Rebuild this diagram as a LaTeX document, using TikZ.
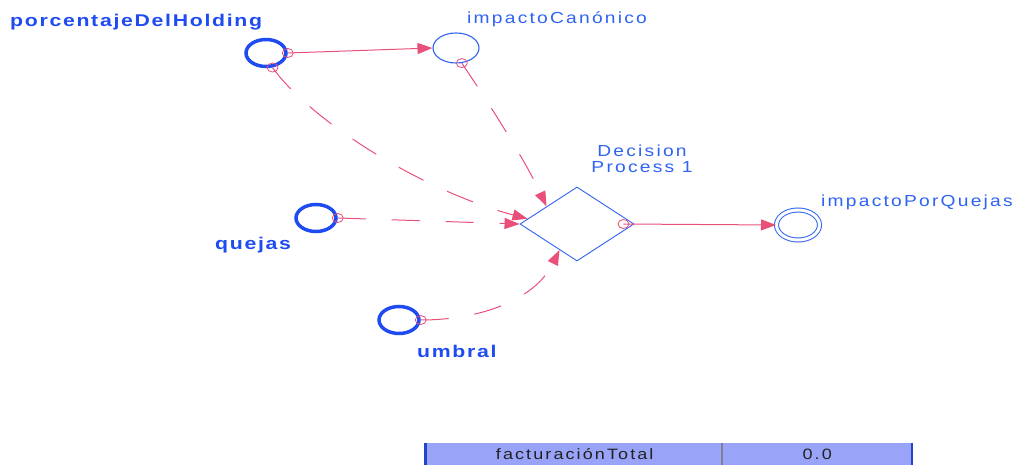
\documentclass[tikz,border=0pt]{standalone}
\usepackage{fontspec}
\setmainfont{Liberation Sans}
\newfontfamily\wideregular[FakeStretch=1.2,LetterSpace=14]{Liberation Sans}
\newfontfamily\widebold[FakeStretch=1.25,LetterSpace=10]{Liberation Sans Bold}
\usetikzlibrary{shapes.geometric,arrows.meta}

\definecolor{varblue}{HTML}{1F4BF2}
\definecolor{auxblue}{HTML}{2F63F2}
\definecolor{linkpink}{HTML}{E8507A}
\definecolor{barfill}{HTML}{99A3F7}
\definecolor{baredge}{HTML}{2244CC}
\definecolor{bardiv}{HTML}{7F7F99}
\definecolor{bartext}{HTML}{222222}

\tikzset{
  inputvar/.style={ellipse, draw=varblue, line width=3.5pt, inner sep=0pt,
    minimum width=40pt, minimum height=27pt},
  auxvar/.style={ellipse, draw=auxblue, line width=1.1pt, inner sep=0pt,
    minimum width=46pt, minimum height=30pt},
  outvar/.style={ellipse, draw=auxblue, line width=1pt, double, double distance=3pt,
    inner sep=0pt, minimum width=43pt, minimum height=30pt},
  decision/.style={diamond, draw=auxblue, line width=0.9pt, inner sep=0pt,
    minimum width=114pt, minimum height=74pt},
  boldlabel/.style={text=varblue, inner sep=0pt, font=\widebold\fontsize{17}{20}\selectfont},
  reglabel/.style={text=auxblue, inner sep=0pt, font=\wideregular\fontsize{16}{19}\selectfont},
  link/.style={draw=linkpink, line width=1pt, -{Triangle[length=15pt,width=11pt]}},
  influence/.style={link, dash pattern=on 28pt off 26pt},
  mk/.style={ellipse, draw=linkpink, line width=0.8pt, inner sep=0pt,
    minimum width=11pt, minimum height=9pt},
  barcell/.style={fill=barfill, inner sep=0pt, minimum height=22pt, text=bartext,
    font=\wideregular\fontsize{15}{17}\selectfont},
}

\begin{document}
\begin{tikzpicture}[x=1pt, y=-1pt]
  \useasboundingbox[fill=white] (0,0) rectangle (1019,465);

  % variables
  \node[inputvar] (porc) at (266,53) {};
  \node[auxvar] (imp) at (456,48) {};
  \node[inputvar] (quejas) at (316,218) {};
  \node[inputvar] (umbral) at (399,320) {};
  \node[decision] (dia) at (577,224) {};
  \node[outvar] (ipq) at (798,225) {};

  % labels
  \node[boldlabel, anchor=base west] (lporc) at (10,27) {porcentajeDelHolding};
  \node[reglabel, anchor=base west] (limp) at (467,24) {impactoCanónico};
  \node[boldlabel, anchor=base west] (lquejas) at (215,249) {quejas};
  \node[boldlabel, anchor=base west] (lumbral) at (417,357) {umbral};
  \node[reglabel, anchor=base] (ldecA) at (642,157) {Decision};
  \node[reglabel, anchor=base] (ldecB) at (642,173) {Process 1};
  \node[reglabel, anchor=base west] (lipq) at (821,206) {impactoPorQuejas};

  % connectors
  \draw[link] (porc.east) -- (imp.west);
  \draw[influence] (porc.-66) .. controls (310,120) and (420,190) .. (dia.174);
  \draw[influence] (imp.-69) .. controls (490,105) and (525,160) .. (dia.150);
  \draw[influence] (quejas.east) -- (dia.west);
  \draw[influence] (umbral.east) .. controls (480,320) and (535,300) .. (dia.-124);
  \draw[link] ([xshift=-11pt]dia.east) -- (ipq.west);

  % connection marks
  \node[mk] (m1) at (porc.east) {};
  \node[mk] (m2) at (porc.-66) {};
  \node[mk] (m3) at (imp.-69) {};
  \node[mk] (m4) at (quejas.east) {};
  \node[mk] (m5) at (umbral.east) {};
  \node[mk] (m6) at ([xshift=-11pt]dia.east) {};

  % value bar
  \node[barcell, minimum width=295pt, anchor=north west] (barname) at (427,443) {facturaciónTotal};
  \node[barcell, minimum width=190pt, anchor=north west] (barvalue) at (722,443) {0.0};
  \draw[baredge, line width=3pt] ([xshift=-1.5pt]barname.north west) -- ([xshift=-1.5pt]barname.south west);
  \draw[bardiv, line width=2pt] (barvalue.north west) -- (barvalue.south west);
  \draw[baredge, line width=2pt] (barvalue.north east) -- (barvalue.south east);
\end{tikzpicture}
\end{document}
